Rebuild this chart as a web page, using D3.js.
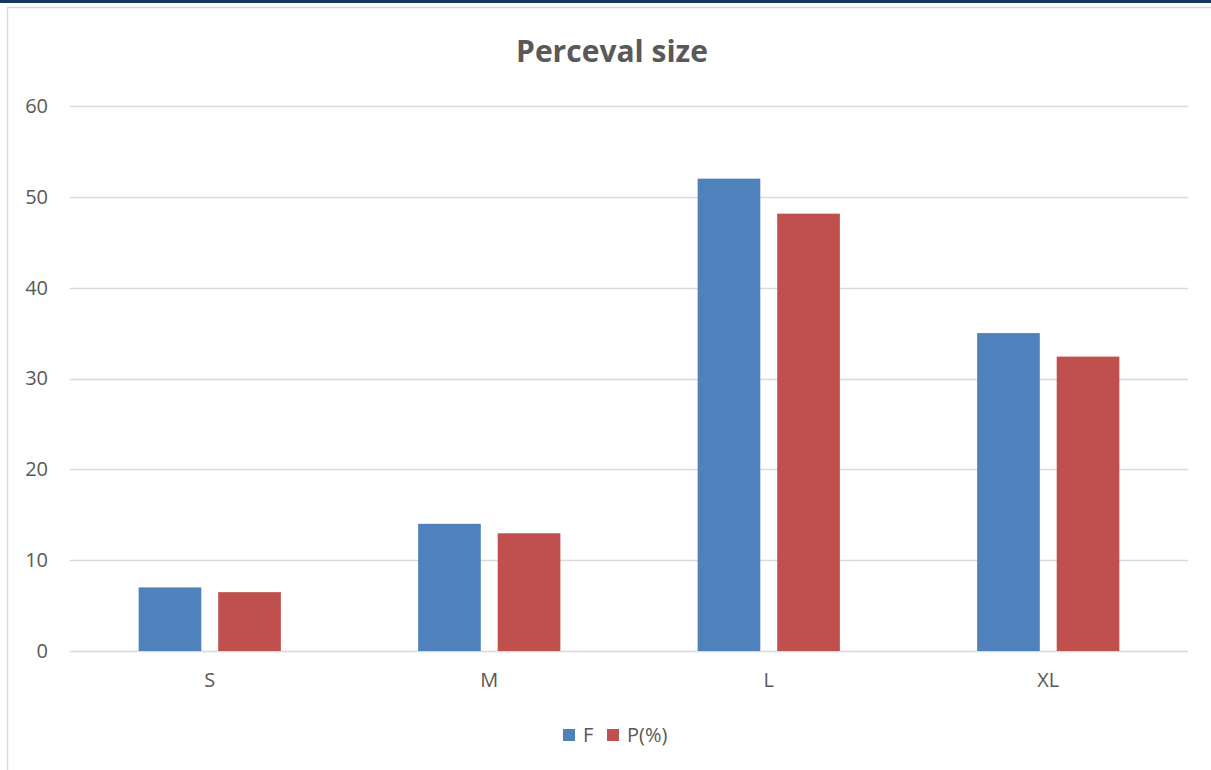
<!DOCTYPE html>
<html>
<head>
<meta charset="utf-8">
<script src="https://cdn.jsdelivr.net/npm/d3@7"></script>
<style>
  html, body { margin: 0; padding: 0; background: #fff; }
  svg { display: block; font-family: "Open Sans", "Noto Sans", sans-serif; }
</style>
</head>
<body>
<svg id="chart" width="1211" height="770"></svg>
<script>
// Size distribution: frequency and percentage per size
const categories = ["S", "M", "L", "XL"];
const seriesNames = ["F", "P(%)"];
const freqValues = [7, 14, 52, 35];
const pctValues = [6.48, 12.96, 48.15, 32.41];
const yTicks = [0, 10, 20, 30, 40, 50, 60];
const colors = ["#4F81BD", "#C0504D"];

const svg = d3.select("#chart");
const W = 1211, H = 770;

// frame: dark band on top, light border around the chart area
svg.append("rect").attr("x", 0).attr("y", 0).attr("width", W).attr("height", 3).attr("fill", "#17375E");
svg.append("line").attr("x1", 7).attr("x2", W).attr("y1", 7.5).attr("y2", 7.5)
  .attr("stroke", "#D9D9D9").attr("stroke-width", 1.5);
svg.append("line").attr("x1", 7.5).attr("x2", 7.5).attr("y1", 7).attr("y2", H)
  .attr("stroke", "#D9D9D9").attr("stroke-width", 1.5);

const plot = { left: 70, right: 1188, top: 106, bottom: 651 };

const x = d3.scaleBand().domain(categories).range([plot.left, plot.right]).paddingInner(0).paddingOuter(0);
const y = d3.scaleLinear().domain([0, 60]).range([plot.bottom, plot.top]);

// gridlines
svg.append("g").selectAll("line").data(yTicks).join("line")
  .attr("x1", plot.left).attr("x2", plot.right)
  .attr("y1", d => Math.round(y(d)) + 0.5).attr("y2", d => Math.round(y(d)) + 0.5)
  .attr("stroke", "#D9D9D9").attr("stroke-width", 1.5);

// y axis labels
const yAxis = d3.axisLeft(y).tickValues(yTicks).tickSize(0).tickPadding(0);
const gy = svg.append("g").attr("transform", `translate(48,0)`).call(yAxis);
gy.select(".domain").remove();
gy.selectAll("text").attr("fill", "#595959").attr("font-size", 20).attr("font-family", "Open Sans, sans-serif");

// x axis labels
const xAxis = d3.axisBottom(x).tickSize(0).tickPadding(0);
const gx = svg.append("g").attr("transform", `translate(0,${plot.bottom + 22})`).call(xAxis);
gx.select(".domain").remove();
gx.selectAll("text").attr("fill", "#595959").attr("font-size", 20).attr("font-family", "Open Sans, sans-serif");

// grouped bars
const inner = d3.scaleBand().domain(seriesNames).range([0, x.bandwidth()]).paddingInner(0.2125).paddingOuter(0.8625);
const rows = categories.map((c, i) => ({ cat: c, vals: [freqValues[i], pctValues[i]] }));

const groups = svg.append("g").selectAll("g").data(rows).join("g")
  .attr("transform", d => `translate(${x(d.cat)},0)`);
groups.selectAll("rect").data(d => d.vals.map((v, j) => ({ key: seriesNames[j], v, j })))
  .join("rect")
  .attr("x", d => inner(d.key))
  .attr("width", inner.bandwidth())
  .attr("y", d => y(d.v))
  .attr("height", d => y(0) - y(d.v))
  .attr("fill", d => colors[d.j]);

// title
svg.append("text").attr("x", 612).attr("y", 62).attr("text-anchor", "middle")
  .attr("font-size", 30).attr("font-weight", "bold").attr("fill", "#595959")
  .text("Perceval size");

// legend
const legend = svg.append("g").attr("transform", "translate(563,735)");
const legendX = [0, 44];
seriesNames.forEach((name, i) => {
  const g = legend.append("g").attr("transform", `translate(${legendX[i]},0)`);
  g.append("rect").attr("x", 0).attr("y", -6).attr("width", 12).attr("height", 12).attr("fill", colors[i]);
  g.append("text").attr("x", 20).attr("y", 7).attr("font-size", 20).attr("fill", "#595959").text(name);
});
</script>
</body>
</html>
